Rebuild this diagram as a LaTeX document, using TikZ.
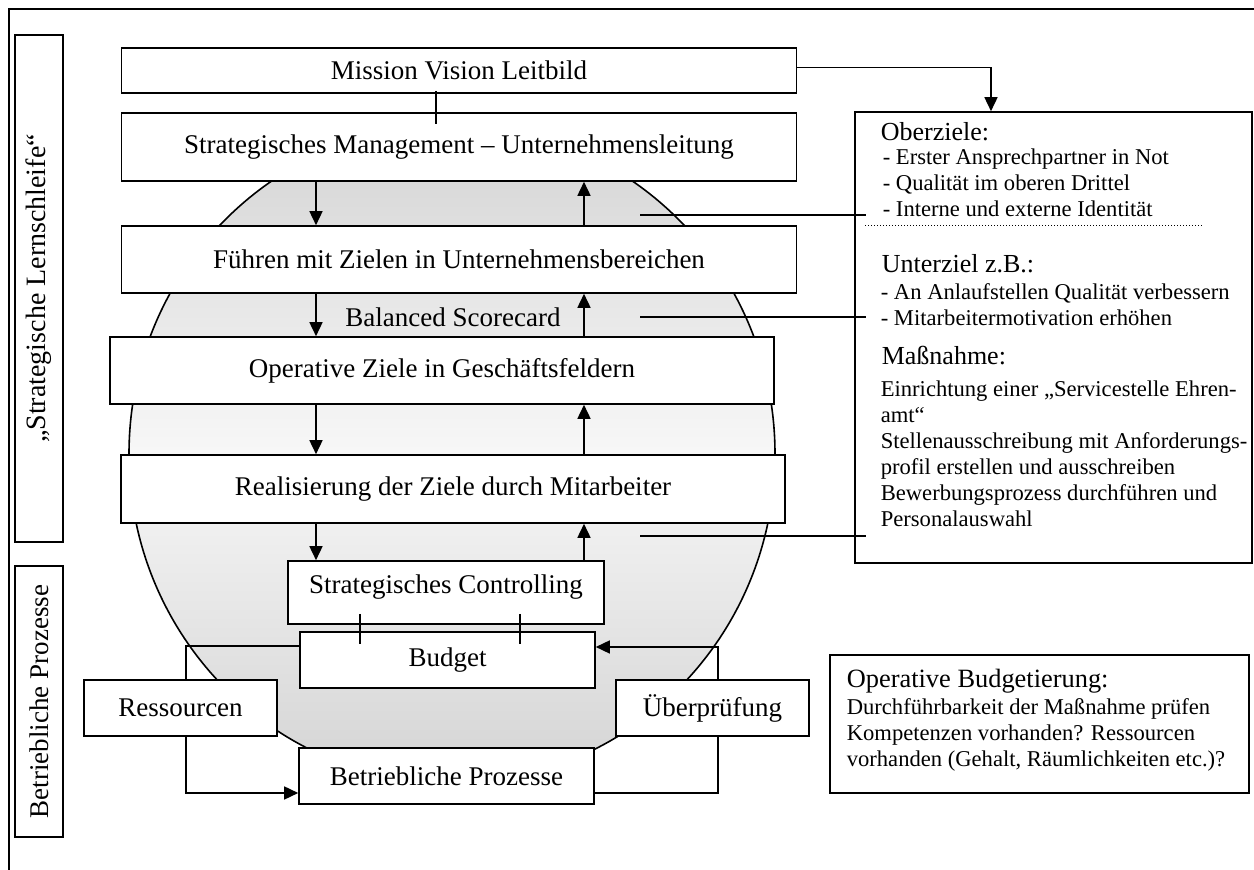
\documentclass[tikz,border=0pt]{standalone}
\usepackage{fontspec}
\setmainfont{Liberation Serif}
\usetikzlibrary{arrows.meta,positioning}

\begin{document}
\begin{tikzpicture}[
    x=0.5pt, y=-0.5pt,
    line width=0.8pt,
    box/.style={rectangle, draw, fill=white, inner sep=0pt, align=center, font=\fontsize{13.5}{16}\selectfont},
    side/.style={box, rotate=90, minimum height=24pt},
    arrow/.style={-{Triangle[length=7pt,width=6.5pt]}},
    head/.style={anchor=base west, inner sep=0pt, font=\fontsize{13}{15}\selectfont},
    item/.style={anchor=base west, inner sep=0pt, font=\fontsize{11.3}{13}\selectfont}
]
    \useasboundingbox (0,0) rectangle (1254,870);
    % frame
    \draw[line width=1pt] (9,870) -- (9,9) -- (1254,9);

    % shaded circle behind the levels
    \draw[top color=black!17, bottom color=black!17, middle color=black!3] (452,454) ellipse [x radius=323, y radius=329];

    % left labels
    \node[side, minimum width=253.5pt, font=\fontsize{14}{16}\selectfont] (lern) at (39,288.5) {„Strategische Lernschleife“};
    \node[side, minimum width=135.5pt] (bpl) at (39,701.5) {Betriebliche Prozesse};

    % levels
    \node[box, minimum width=337.5pt, minimum height=22.5pt] (mvl) at (459,70.5) {Mission Vision Leitbild};
    \node[box, minimum width=337.5pt, minimum height=34pt] (sm) at (459,147) {Strategisches Management – Unternehmensleitung};
    \node[box, minimum width=337.5pt, minimum height=33.5pt] (fmz) at (459,259.5) {Führen mit Zielen in Unternehmensbereichen};
    \node[font=\fontsize{13.5}{16}\selectfont, inner sep=0pt] (bsc) at (453,317) {Balanced Scorecard};
    \node[box, minimum width=332pt, minimum height=33.5pt] (ozg) at (442,370.5) {Operative Ziele in Geschäftsfeldern};
    \node[box, minimum width=332pt, minimum height=34pt] (rzm) at (453,489) {Realisierung der Ziele durch Mitarbeiter};
    \node[box, minimum width=158pt, minimum height=31.5pt, text height=10pt, text depth=8.5pt] (sc) at (446,592.5) {Strategisches Controlling};
    \node[box, minimum width=147.5pt, minimum height=28pt] (bud) at (447.5,660) {Budget};
    \node[box, minimum width=96.5pt, minimum height=28pt] (res) at (180.5,708) {Ressourcen};
    \node[box, minimum width=96.5pt, minimum height=28pt] (ueb) at (712.5,708) {Überprüfung};
    \node[box, minimum width=147.5pt, minimum height=28pt] (bp) at (446.5,776) {Betriebliche Prozesse};

    % right boxes
    \node[box, minimum width=198.5pt, minimum height=225.5pt] (ziele) at (1053.5,337.5) {};
    \node[box, line width=1.2pt, minimum width=209.5pt, minimum height=69pt] (obud) at (1039.5,724) {};

    \node[head] (oz) at (880,141) {Oberziele:};
    \foreach \t [count=\i] in {{- Erster Ansprechpartner in Not},{- Qualität im oberen Drittel},{- Interne und externe Identität}}
        \node[item] (oz\i) at (882,139+26*\i) {\t};
    \draw[line width=0.5pt, dash pattern=on 0.5pt off 1pt] (865,226) -- (1203,226);
    \node[head] (uz) at (881,273) {Unterziel z.B.:};
    \foreach \t [count=\i] in {{- An Anlaufstellen Qualität verbessern},{- Mitarbeitermotivation erhöhen}}
        \node[item] (uz\i) at (880,274+26*\i) {\t};
    \node[head] (mn) at (881,365) {Maßnahme:};
    \foreach \t [count=\i] in {{Einrichtung einer „Servicestelle Ehren-},{amt“},{Stellenausschreibung mit Anforderungs-},{profil erstellen und ausschreiben},{Bewerbungsprozess durchführen und},{Personalauswahl}}
        \node[item] (mn\i) at (880,371+26*\i) {\t};

    \node[head, font=\fontsize{13.2}{15}\selectfont] (obh) at (846,688) {Operative Budgetierung:};
    \foreach \t [count=\i] in {{Durchführbarkeit der Maßnahme prüfen},{Kompetenzen vorhanden? Ressourcen},{vorhanden (Gehalt, Räumlichkeiten etc.)?}}
        \node[item] (ob\i) at (846,689+26*\i) {\t};

    % connectors
    \coordinate (dn) at (316,0);
    \coordinate (up) at (584,0);
    \coordinate (t1) at (360,0);
    \coordinate (t2) at (520,0);
    \coordinate (lx) at (186,0);
    \coordinate (rx) at (718,0);

    \draw ([xshift=-11.5pt,yshift=1.5pt]mvl.south) -- ([xshift=-11.5pt,yshift=-6pt]sm.north);
    \draw[arrow] ([yshift=1.5pt]mvl.east) -| ([xshift=-31.25pt]ziele.north);

    \foreach \a/\b in {sm/fmz, fmz/ozg, ozg/rzm, rzm/sc} {
        \draw[arrow] (\a.south -| dn) -- (\b.north -| dn);
        \draw[arrow] (\b.north -| up) -- (\a.south -| up);
    }

    \foreach \y [count=\i] in {215,317,536} {
        \coordinate (k\i) at (640,\y);
        \draw (k\i) -- ([xshift=6pt]k\i -| ziele.west);
    }

    \foreach \t in {t1,t2}
        \draw ([yshift=5.5pt]sc.south -| \t) -- ([yshift=-6.5pt]bud.north -| \t);

    \draw ([yshift=7pt]bud.west) -| (res.north -| lx);
    \draw[arrow] (res.south -| lx) |- ([yshift=-8.5pt]bp.west);
    \draw ([yshift=-8.5pt]bp.east) -| (ueb.south -| rx);
    \draw[arrow] (ueb.north -| rx) |- ([yshift=6.5pt]bud.east);
\end{tikzpicture}
\end{document}
